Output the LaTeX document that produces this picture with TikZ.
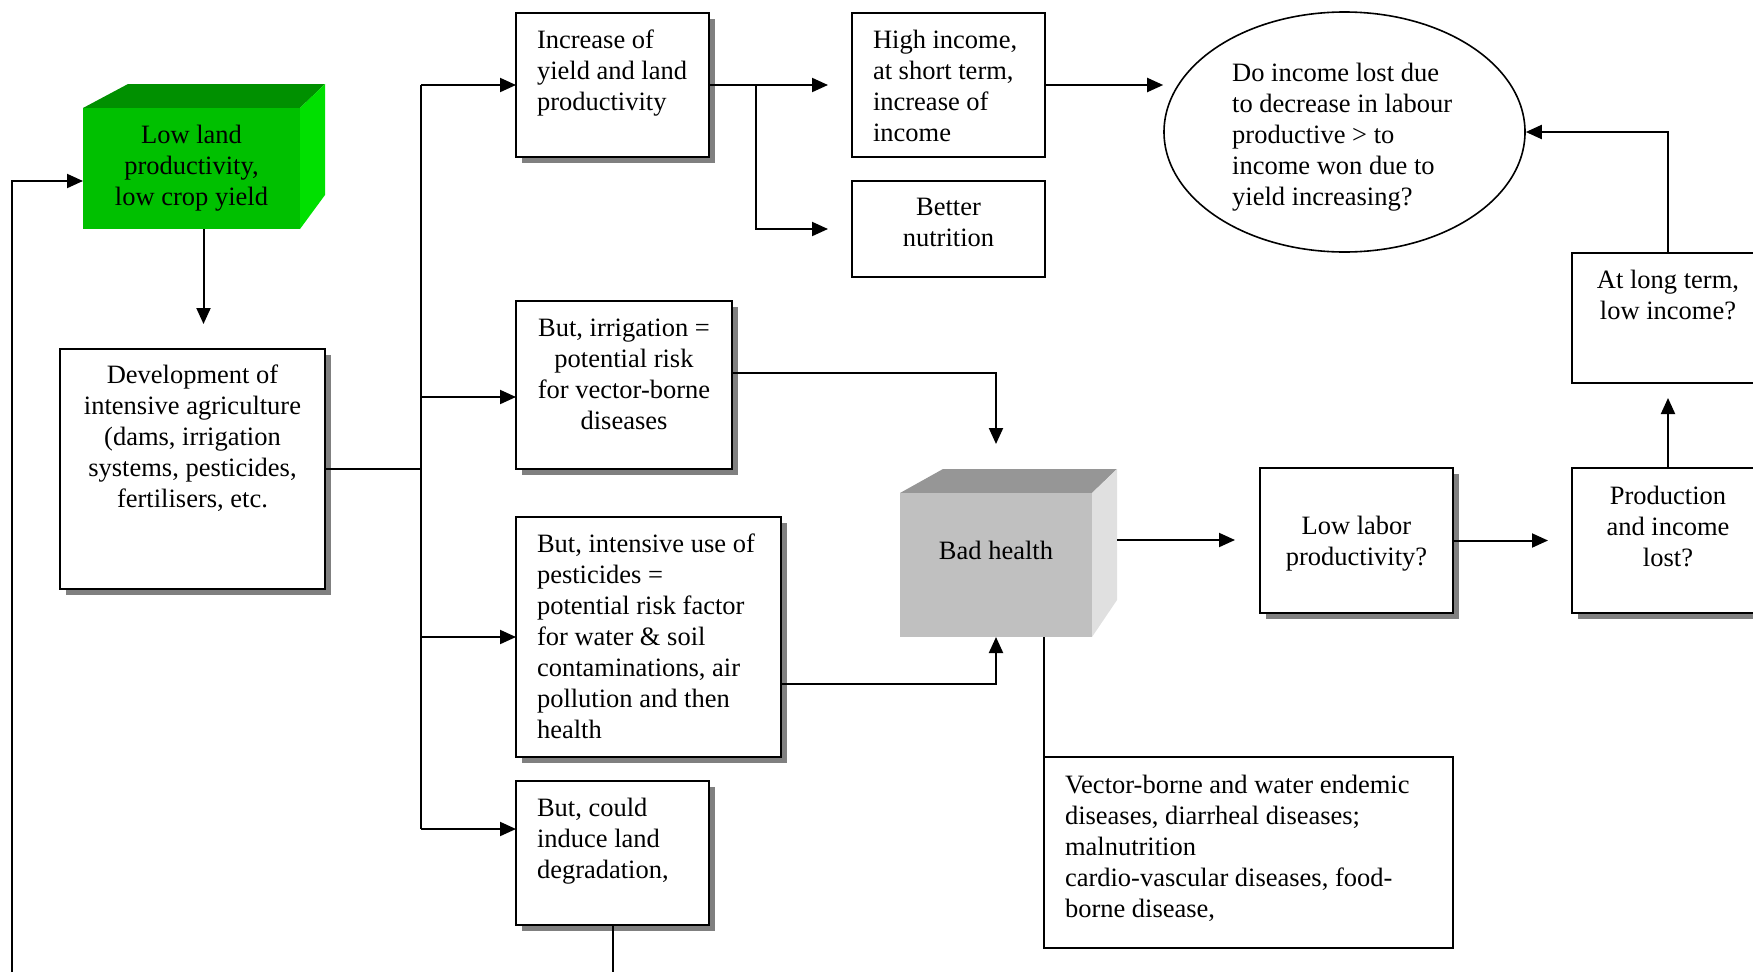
\documentclass[tikz,border=0pt]{standalone}
\usepackage{fontspec}
\setmainfont{Liberation Serif}
\usetikzlibrary{arrows.meta,shadows,shapes.geometric}
\definecolor{gfront}{RGB}{0,192,0}
\definecolor{gtop}{RGB}{0,144,0}
\definecolor{gside}{RGB}{0,224,0}
\definecolor{hfront}{RGB}{192,192,192}
\definecolor{htop}{RGB}{150,150,150}
\definecolor{hside}{RGB}{224,224,224}
\newcommand\fs{\fontsize{26.5pt}{31pt}\selectfont}
\newcommand\tb[4]{\parbox[c][#1pt][t]{#2pt}{\vspace*{#3pt}#4}}
\newcommand\cT[1]{\centering\rule{0pt}{20pt}#1}
\newcommand\lT[1]{\raggedright\leftskip=21pt\relax\rule{0pt}{20pt}#1}
\begin{document}
\begin{tikzpicture}[x=1pt,y=-1pt,
  box/.style={draw, line width=2.2pt, fill=white, inner sep=0pt, outer sep=0pt, anchor=north west, font=\fs},
  shbox/.style={box, drop shadow={shadow xshift=6pt, shadow yshift=-6pt, fill=black!50, opacity=1}},
  face/.style={draw=none, inner sep=0pt, outer sep=0pt, anchor=north west, font=\fs},
  line/.style={line width=2pt},
  arr/.style={line, -{Triangle[length=16pt,width=14pt]}}]
\useasboundingbox (0,0) rectangle (1753,972);

% green 3D box
\fill[gtop] (83,108) -- (128,84) -- (325,84) -- (300,108) -- cycle;
\fill[gside] (300,108) -- (325,84) -- (325,195) -- (300,229) -- cycle;
\node[face, fill=gfront] (lowland) at (83,108) {\tb{121}{217}{15}{\cT{Low land\\productivity,\\low crop yield}}};

% grey 3D box
\fill[htop] (900,493) -- (943,469) -- (1117,469) -- (1092,493) -- cycle;
\fill[hside] (1092,493) -- (1117,469) -- (1117,600) -- (1092,637) -- cycle;
\node[face, fill=hfront] (bad) at (900,493) {\tb{144}{192}{46}{\cT{Bad health}}};

% boxes
\node[shbox] (dev) at (60,349) {\tb{240}{265}{14}{\cT{Development of\\intensive agriculture\\(dams, irrigation\\systems, pesticides,\\fertilisers, etc.}}};
\node[shbox] (inc) at (516,13) {\tb{144}{193}{15}{\lT{Increase of\\yield and land\\productivity}}};
\node[box] (hi) at (852,13) {\tb{144}{193}{15}{\lT{High income,\\at short term,\\increase of\\income}}};
\node[box] (bn) at (852,181) {\tb{96}{193}{14}{\cT{Better\\nutrition}}};
\node[shbox] (irr) at (516,301) {\tb{168}{216}{15}{\cT{But, irrigation =\\potential risk\\for vector-borne\\diseases}}};
\node[shbox] (pest) at (516,517) {\tb{240}{265}{15}{\lT{But, intensive use of\\pesticides =\\potential risk factor\\for water \& soil\\contaminations, air\\pollution and then\\health}}};
\node[shbox] (could) at (516,781) {\tb{144}{193}{15}{\lT{But, could\\induce land\\degradation,}}};
\node[shbox] (lowlab) at (1260,468) {\tb{145}{193}{46}{\cT{Low labor\\productivity?}}};
\node[shbox] (prod) at (1572,468) {\tb{145}{192}{16}{\cT{Production\\and income\\lost?}}};
\node[box] (long) at (1572,253) {\tb{130}{192}{15}{\cT{At long term,\\low income?}}};
\node[box] (vec) at (1044,757) {\tb{191}{409}{16}{\lT{Vector-borne and water endemic\\diseases, diarrheal diseases;\\malnutrition\\cardio-vascular diseases, food-\\borne disease,}}};
\node[ellipse, draw, line width=1.6pt, minimum width=361pt, minimum height=240pt, inner sep=0pt] (ell) at (1344.5,132) {};
\node[inner sep=0pt, anchor=north west, font=\fs, align=left] (ellt) at (1232,63) {Do income lost due\\to decrease in labour\\productive > to\\income won due to\\yield increasing?};

% coordinates
\coordinate (t1) at (421,85);
\coordinate (t2) at (421,397);
\coordinate (t4) at (421,829);
\coordinate (b1) at (756,85);
\coordinate (fbL) at (12,972);
\coordinate (fbB) at (612.5,972);
\coordinate (badR) at (1117,540);
\coordinate (badTop) at (996,469);

% connectors
\draw[arr] (fbL) |- ([yshift=-12.5pt]lowland.west);
\draw[arr, shorten >=25pt] ([xshift=12pt]lowland.south) -- ([xshift=12pt]lowland.south |- dev.north);
\draw[line] (could.south) -- (fbB);
\draw[line] (dev.east) -- (dev.east -| t1);
\draw[line] (t1) -- (t4);
\draw[arr] (t1) -- (t1 -| inc.west);
\draw[arr] (t2) -- (t2 -| irr.west);
\draw[arr] (pest.west -| t1) -- (pest.west);
\draw[arr] (t4) -- (t4 -| could.west);
\draw[arr, shorten >=24pt] (inc.east) -- (inc.east -| hi.west);
\draw[arr, shorten >=24pt] (b1) |- (bn.west);
\draw[arr] (hi.east) -- (hi.east -| ell.west);
\draw[arr] (long.north) |- (ell.east);
\draw[arr, shorten >=15pt] (prod.north) -- (long.south);
\draw[arr, shorten >=24pt] (lowlab.east) -- (lowlab.east -| prod.west);
\draw[arr, shorten >=25pt] (badR) -- (badR -| lowlab.west);
\draw[arr, shorten >=25pt] ([yshift=12pt]irr.east) -| (badTop);
\draw[arr] ([yshift=-47pt]pest.east) -| (bad.south);
\draw[line] (vec.north west |- bad.south) -- (vec.north west);
\end{tikzpicture}
\end{document}
